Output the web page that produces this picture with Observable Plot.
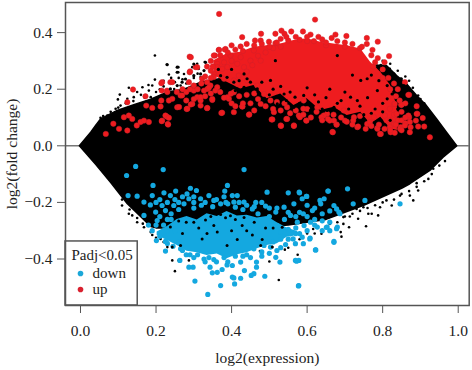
<!DOCTYPE html>
<html><head><meta charset="utf-8">
<script src="https://cdn.jsdelivr.net/npm/d3@7"></script>
<script src="https://cdn.jsdelivr.net/npm/@observablehq/plot@0.6"></script>
<style>html,body{margin:0;padding:0;background:#fff}</style></head>
<body><div id="chart"></div>
<script>
// envelope of the solid black cloud (upper / lower side)
const cloudX = [-.003,.027,.04,.053,.097,.141,.186,.23,.274,.318,.36,.42,.5,.6,.7,.75,.788,.81,.837,.863,.89,.916,.943,.969,.996];
const cloudTop = [0,.048,.072,.095,.125,.145,.165,.19,.2,.225,.235,.25,.26,.26,.27,.28,.285,.284,.248,.219,.178,.142,.095,.048,0];
const cloudBottomX = [-.003,.04,.08,.124,.159,.186,.2,.25,.3,.4,.5,.55,.6,.65,.7,.75,.8,.85,.872,.925,.96,.996];
const cloudBottom = [0,-.065,-.13,-.205,-.25,-.285,-.29,-.29,-.29,-.29,-.285,-.28,-.27,-.26,-.235,-.21,-.18,-.15,-.134,-.087,-.04,0];
// solid parts of the two coloured clouds
const upX = [.353,.388,.424,.459,.494,.53,.565,.6,.636,.671,.706,.742,.768,.795,.821,.839];
const upTop = [.301,.325,.331,.348,.354,.36,.372,.378,.366,.36,.354,.342,.295,.26,.213,.136];
const upBottom = [.248,.225,.201,.213,.166,.183,.142,.166,.125,.136,.107,.119,.077,.101,.06,.054];
const downX = [.203,.23,.256,.282,.309,.335,.362,.388,.415,.441,.468,.494,.521,.547,.574];
const downTop = [-.305,-.285,-.26,-.25,-.262,-.24,-.25,-.232,-.248,-.245,-.255,-.25,-.272,-.29,-.303];
const downBottom = [-.317,-.335,-.352,-.373,-.378,-.388,-.382,-.399,-.385,-.378,-.364,-.352,-.346,-.323,-.317];
// individually visible points
const blackSpecks = [[.197,.319],[.230,.286],[.259,.278],[.259,.26],[.234,.252],[.309,.29],[.313,.272],[.329,.296],[.197,.234],[.164,.207],[.128,.205],[.104,.181],[.099,.164],[.053,.099],[.071,.107],[.093,.131],[.106,.142],[.124,.166],[.141,.172],[.181,.195],[.19,.213],[.274,.254],[.296,.278],[.318,.243],[.186,.172],[.203,.16],[.248,.201],[.265,.213],[.239,.225],[.784,.284],[.819,.272],[.828,.248],[.85,.237],[.872,.201],[.894,.178],[.806,.266],
[.525,-.474],[.575,-.385],[.5,-.409],[.541,-.367],[.475,-.372],[.638,-.311],[.691,-.321],[.689,-.305],[.696,-.276],[.711,-.288],[.713,-.25],[.735,-.258],[.756,-.284],[.762,-.24],[.788,-.246],[.771,-.24],[.793,-.217],[.824,-.211],[.881,-.193],[.872,-.176],[.894,-.158],[.846,-.176],[.81,-.193],[.749,-.217],[.731,-.223],[.696,-.252],[.66,-.276],[.616,-.294],[.965,-.054],[.934,-.081],[.921,-.117],[.89,-.132],[.863,-.129],
[.243,-.405],[.25,-.443],[.287,-.405],[.23,-.358],[.243,-.358],[.212,-.329],[.27,-.341],[.26,-.405],[.168,-.288],[.15,-.27],[.128,-.24],[.11,-.211],[.137,-.246],[.181,-.276],[.186,-.305],
[.06,.105],[.08,.12],[.1,.135],[.12,.15],[.14,.158],[.16,.18],[.17,.17],[.2,.19],[.21,.2],[.22,.21],[.25,.225],[.27,.235],[.28,.22],[.3,.24],[.31,.255],[.26,.24],[.24,.24],[.22,.23],[.18,.215],[.15,.19],[.87,.23],[.88,.205],[.86,.245],[.84,.265],[.9,.165],[.91,.15],[.82,.29],[.8,.3],[.11,-.19],[.13,-.225],[.15,-.255],[.165,-.275],[.19,-.315],[.2,-.325],[.22,-.34],[.7,-.25],[.72,-.24],[.74,-.23],[.76,-.22],[.78,-.21],[.8,-.2],[.83,-.19],[.85,-.17],[.87,-.16],[.89,-.145],[.91,-.125],[.93,-.1],[.95,-.07],[.68,-.27],[.65,-.29],[.62,-.31],[.6,-.31],[.58,-.33],[.55,-.36],[.48,-.39]];
const upDots = [[.367,.466],[.621,.446],[.428,.384],[.478,.396],[.516,.396],[.532,.407],[.54,.396],[.558,.404],[.589,.404],[.609,.393],[.675,.393],[.665,.381],[.704,.388],[.758,.381],[.758,.36],[.787,.368],[.773,.339],[.787,.31],[.817,.317],[.805,.295],[.4,.355],[.424,.351],[.462,.372],[.499,.368],[.516,.363],[.366,.339],[.384,.342],[.289,.315],[.356,.319],[.64,.376],[.618,.37],[.53,.378],[.477,.372],
[.216,.225],[.238,.225],[.229,.195],[.214,.16],[.216,.089],[.229,.103],[.231,.077],[.256,.136],[.281,.13],[.296,.148],[.309,.172],[.318,.16],[.335,.133],[.349,.162],[.373,.116],[.406,.119],[.446,.11],[.428,.139],[.393,.166],[.406,.189],[.357,.195],[.344,.213],[.327,.195],[.3,.213],[.287,.225],[.265,.178],[.243,.166],[.322,.237],[.305,.278],[.289,.26],[.353,.254],[.375,.272],[.424,.313],[.433,.278],[.459,.337],[.45,.301],[.477,.301],[.397,.319],[.38,.295],[.362,.29],[.419,.248],[.441,.231],[.468,.213],[.486,.183],[.503,.16],[.477,.148],[.508,.093],[.547,.095],[.53,.072],[.565,.072],[.598,.089],[.578,.107],[.547,.136],[.6,.13],[.53,.125],[.591,.16],[.627,.136],[.653,.113],[.678,.075],[.644,.107],[.671,.089],[.667,.049],[.733,.066],[.786,.063],[.821,.048],[.795,.042],[.759,.077],[.724,.101],[.697,.125],[.777,.101],[.83,.077],[.848,.066],[.874,.066],[.892,.113],[.87,.101],[.849,.145],[.83,.148],[.89,.14],[.87,.18],[.859,.225],
[.067,.042],[.087,.078],[.102,.06],[.124,.054],[.115,.101],[.128,.107],[.137,.095],[.149,.072],[.159,.084],[.168,.089],[.181,.084],[.124,.154],[.139,.199],[.172,.175],[.174,.142],[.19,.134],[.214,.221],[.215,.195],[.243,.225],[.23,.19],[.234,.16],[.212,.139],[.225,.107],[.234,.099],[.215,.087],[.232,.075],[.261,.137],[.283,.131],[.292,.146],[.318,.142],[.336,.134],[.375,.117],[.292,.313],[.309,.278],[.29,.263],[.318,.172],[.349,.166],[.389,.172],[.269,.178],[.3,.195],[.336,.201],[.353,.319],[.367,.339],[.382,.34],[.362,.278],[.389,.278],[.353,.243],[.38,.237],[.406,.231],[.362,.207],[.398,.184],[.415,.219],[.4,.3],[.415,.29],[.44,.262],[.455,.285],[.47,.318],[.49,.33],[.51,.345],[.53,.35],[.55,.372],[.58,.375],[.6,.37],[.65,.355],[.7,.35],[.74,.345],[.775,.28],[.8,.24],[.82,.2],[.835,.175],[.85,.12],[.83,.11],[.81,.09],[.82,.09],[.84,.09],[.85,.09],[.86,.08],[.832,.046],[.793,.042],[.786,.06],[.668,.048],[.735,.068],[.678,.075],[.565,.07],[.531,.07],[.506,.093],[.429,.139],[.447,.111],[.545,.095],[.581,.101],[.598,.089],[.512,.119],[.59,.131],[.638,.101],[.66,.089],[.7,.089],[.722,.089],[.766,.084],[.819,.066],[.846,.06],[.859,.072],[.837,.113],[.819,.131],[.806,.107],[.872,.048],[.925,.03],[.91,.068],[.906,.098],[.89,.113],[.868,.18],[.888,.089],[.872,.084],[.868,.107],[.85,.145],[.832,.148],[.894,.068],
[.32,.22],[.335,.225],[.345,.24],[.33,.245],[.345,.265],[.335,.28],[.35,.28],[.345,.3],[.34,.205],[.31,.2],[.29,.2],[.28,.19],[.27,.2],[.255,.19],[.28,.16],[.3,.165],[.33,.175],[.345,.185],[.37,.19],[.38,.17],[.4,.15],[.42,.175],[.44,.18],[.46,.185],[.47,.165],[.45,.15],[.43,.15],[.41,.14],[.46,.125],[.49,.14],[.51,.13],[.52,.155],[.54,.15],[.555,.115],[.57,.125],[.59,.11],[.61,.1],[.625,.12],[.64,.09],[.655,.095],[.67,.11],[.69,.1],[.705,.085],[.72,.075],[.74,.105],[.755,.06],[.77,.07],[.79,.075],[.805,.06],[.835,.075],[.85,.055],[.82,.055],[.86,.1],[.845,.16],[.86,.15],
[.37,.32],[.39,.33],[.41,.34],[.43,.335],[.44,.36],[.46,.355],[.48,.36],[.5,.35],[.52,.365],[.545,.385],[.57,.385],[.6,.385],[.63,.385],[.65,.365],[.68,.37],[.7,.365],[.72,.36],[.745,.35],[.77,.32],[.78,.295],[.8,.27],[.815,.24],[.83,.22],[.84,.2]];
const holes = [[.568,.172],[.539,.183],[.503,.231],[.468,.201],[.433,.254],[.441,.237],[.591,.178],[.68,.319],[.742,.231],[.759,.237],[.786,.195],[.812,.213],[.715,.172],[.733,.16],[.671,.136],[.653,.125],[.609,.125],[.565,.136],[.521,.148],[.486,.16],[.516,.301],[.795,.284],[.812,.26],[.83,.254],[.848,.237],[.856,.213],[.825,.183],[.812,.166],[.388,.242],[.371,.248],[.406,.225],[.433,.207],[.3,.248],[.278,.236],[.256,.213],[.238,.201],[.269,.225],[.327,.266],[.318,.254],[.331,.295],[.3,.289],[.256,.278],[.256,.26],[.229,.287],
[.4,.21],[.42,.23],[.45,.225],[.48,.225],[.51,.2],[.53,.21],[.555,.19],[.6,.205],[.62,.18],[.65,.17],[.66,.2],[.69,.16],[.7,.19],[.74,.14],[.76,.17],[.78,.13],[.8,.15],
[.38,.2],[.41,.195],[.44,.2],[.47,.19],[.5,.18],[.52,.175],[.545,.16],[.58,.15],[.6,.15],[.63,.155],[.64,.13],[.68,.15],[.71,.13],[.75,.11],[.77,.115],[.8,.12],[.82,.09],[.84,.13],[.365,.27],[.4,.27],[.72,.25],[.77,.25],[.79,.23]];
const downDots = [[.337,-.525],[.303,-.478],[.371,-.494],[.408,-.488],[.406,-.467],[.424,-.468],[.402,-.464],[.577,-.495],[.488,-.461],[.459,-.452],[.452,-.458],[.434,-.441],[.349,-.449],[.362,-.447],[.375,-.437],[.388,-.421],[.343,-.429],[.287,-.429],[.298,-.429],[.327,-.4],[.353,-.402],[.402,-.423],[.424,-.411],[.466,-.411],[.466,-.429],[.528,-.411],[.569,-.405],[.578,-.405],[.517,-.394],[.622,-.368],[.671,-.338],[.59,-.346],[.608,-.326],[.569,-.346],[.543,-.349],[.225,-.372],[.225,-.338],[.201,-.335],[.263,-.405],[.265,-.364],[.494,-.164],[.55,-.166],[.58,-.166],[.655,-.16],[.389,-.14],[.382,-.16],[.192,-.14],[.219,-.084],[.146,-.073],[.122,-.105],[.433,-.084],[.126,-.176],[.15,-.178],[.168,-.199],[.185,-.209],[.168,-.246],[.203,-.264],[.19,-.176],[.221,-.166],[.252,-.16],[.291,-.15],[.307,-.158],[.282,-.17],[.238,-.176],[.216,-.211],[.225,-.229],[.199,-.234],[.247,-.211],[.274,-.205],[.287,-.187],[.318,-.187],[.34,-.176],[.353,-.193],[.371,-.205],[.402,-.176],[.415,-.176],[.406,-.199],[.433,-.199],[.464,-.2],[.49,-.213],[.41,-.217],[.455,-.223],[.517,-.234],[.539,-.217],[.565,-.205],[.587,-.187],[.599,-.179],[.636,-.205],[.645,-.187],[.671,-.211],[.684,-.234],[.614,-.229],[.556,-.246],[.574,-.27],[.627,-.287],[.609,-.27],[.592,-.282],[.653,-.287],[.68,-.287],[.556,-.311],[.587,-.323],[.521,-.282],[.53,-.305],[.503,-.329],[.486,-.352],[.459,-.364],[.503,-.358],
[.846,-.205],[.671,-.341],[.623,-.368],[.578,-.494],[.572,-.408],[.707,-.152],[.656,-.16],[.579,-.164],[.598,-.179],[.722,-.205],[.753,-.193],[.678,-.293],[.651,-.288],[.634,-.193],[.687,-.24],[.678,-.223],[.607,-.329],[.563,-.329],
[.24,-.24],[.26,-.225],[.3,-.22],[.32,-.21],[.35,-.215],[.39,-.205],[.43,-.225],[.47,-.24],[.5,-.25],[.54,-.26],[.21,-.25],[.23,-.26],[.25,-.3],[.23,-.3],[.26,-.34],[.28,-.385],[.31,-.385],[.34,-.395],[.38,-.395],[.41,-.39],[.44,-.385],[.48,-.375],[.51,-.34],[.53,-.33],[.55,-.295],[.57,-.29],[.62,-.26],[.64,-.265],[.66,-.27],[.6,-.25],[.58,-.235],
[.2,-.2],[.21,-.19],[.23,-.2],[.25,-.19],[.26,-.2],[.27,-.18],[.3,-.18],[.3,-.2],[.33,-.2],[.36,-.19],[.38,-.18],[.385,-.2],[.42,-.2],[.44,-.21],[.46,-.215],[.48,-.2],[.5,-.22],[.52,-.22],[.55,-.235],[.57,-.25],[.59,-.24],[.6,-.21],[.62,-.22],[.64,-.24],[.66,-.23],[.62,-.28],[.6,-.3],[.58,-.31],[.64,-.3],[.66,-.3],[.57,-.31],[.55,-.33],[.53,-.36],[.52,-.37],[.5,-.38],[.48,-.39],[.45,-.395],[.43,-.39],[.39,-.41],[.36,-.41],[.33,-.41],[.3,-.395],[.29,-.385],[.27,-.37],[.245,-.355],[.23,-.345],[.21,-.32],[.19,-.3],[.18,-.28],[.2,-.28],[.22,-.28],[.24,-.26]];
const blueHoles = [[.322,-.329],[.428,-.282],[.415,-.331],[.313,-.29],[.384,-.254],[.455,-.315],[.481,-.331],[.534,-.288],[.29,-.243],[.305,-.25],[.371,-.243],[.477,-.352],[.508,-.358],[.362,-.305],[.388,-.352],[.265,-.352],[.243,-.358],[.353,-.282],[.238,-.287],[.26,-.266],[.433,-.253],[.397,-.247],[.331,-.262],[.28,-.27],[.3,-.27],[.345,-.25],[.41,-.26],[.46,-.27],[.49,-.29],[.51,-.29],[.27,-.31],[.44,-.3],[.4,-.3],[.335,-.31]];
// legend
const legendTitle = "Padj<0.05";
const legendNames = ["down","up"];
const legendY = [-.451,-.508];
const xTicks = [0,.2,.4,.6,.8,1];
const yTicks = [-.4,-.2,0,.2,.4];

const blue = "#14a8e0", red = "#ee1c1f", serif = "'Liberation Serif','Times New Roman',serif";
const px = d => d[0], py = d => d[1];
const up = upX.map((x,i)=>({x,a:upTop[i],b:upBottom[i]}));
const down = downX.map((x,i)=>({x,a:downTop[i],b:downBottom[i]}));
const outline = cloudX.map((x,i)=>[x,cloudTop[i]]).concat(cloudBottomX.map((x,i)=>[x,cloudBottom[i]]).reverse());

const chart = Plot.plot({
  width:472, height:370, marginLeft:65, marginRight:3.3, marginTop:2, marginBottom:65,
  style:{fontFamily:serif,fontSize:"15.5px",background:"#fff",color:"#222"},
  x:{domain:[-.0397,1.0291]}, y:{domain:[-.5643,.5064]},
  marks:[
    Plot.ruleY([0],{stroke:"#777",strokeWidth:1.5}),
    Plot.line(outline,{x:px,y:py,fill:"#000",stroke:"#000",curve:"linear-closed"}),
    Plot.dot(blackSpecks,{x:px,y:py,r:1.3,fill:"#000"}),
    Plot.areaY(up,{x:"x",y1:"a",y2:"b",fill:red}),
    Plot.dot(upDots,{x:px,y:py,r:2.7,fill:red,stroke:"#d0202a",strokeWidth:.5}),
    Plot.dot(holes,{x:px,y:py,r:1.6,fill:"#000"}),
    Plot.areaY(down,{x:"x",y1:"a",y2:"b",fill:blue}),
    Plot.dot(downDots,{x:px,y:py,r:2.6,fill:blue}),
    Plot.dot(blueHoles,{x:px,y:py,r:1.5,fill:"#000"}),
    Plot.rect([0],{x1:-.0397,x2:.1515,y1:-.338,y2:-.5643,fill:"#fff",stroke:"#555",strokeWidth:1.5}),
    Plot.text([legendTitle],{x:-.024,y:-.388,text:d=>d,textAnchor:"start",fontSize:15,fill:"#222"}),
    Plot.dot(legendNames,{x:0,y:(d,i)=>legendY[i],r:2.8,fill:(d,i)=>i?"#d9212f":"#1ba7d8"}),
    Plot.text(legendNames,{x:.032,y:(d,i)=>legendY[i],text:d=>d,textAnchor:"start",fontSize:15,fill:"#222"}),
    Plot.frame({stroke:"#555",strokeWidth:1.5}),
    Plot.axisX(xTicks,{tickFormat:d3.format(".1f"),tickSize:8,tickPadding:11,stroke:"#555",label:"log2(expression)",labelAnchor:"center",labelArrow:"none",labelOffset:57}),
    Plot.axisY(yTicks,{tickFormat:d3.format(".1f"),tickSize:8,tickPadding:5,stroke:"#555",label:"log2(fold change)",labelAnchor:"center",labelArrow:"none",labelOffset:60})
  ]
});
document.getElementById("chart").appendChild(chart);
</script></body></html>
